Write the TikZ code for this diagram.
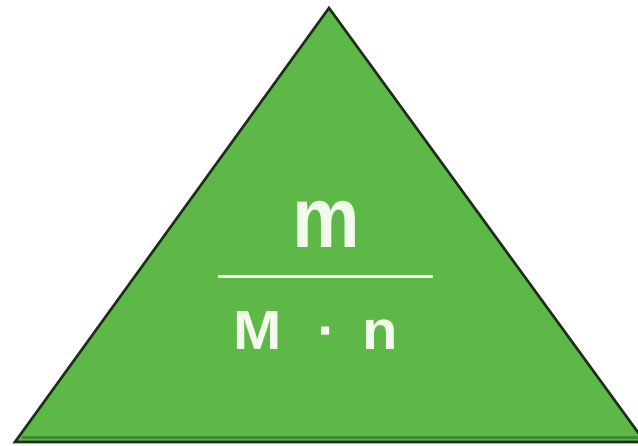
\documentclass[tikz,border=0pt]{standalone}
\usepackage{fontspec}
\setmainfont{Liberation Sans}
\usepackage{graphicx}
\definecolor{trigreen}{HTML}{5DB848}
\definecolor{edgedark}{HTML}{1C3018}
\definecolor{bandgreen}{HTML}{3E8A31}
\definecolor{txt}{HTML}{F2FAEC}
\begin{document}
\begin{tikzpicture}[x=1pt,y=1pt,
  tri/.style={fill=trigreen,draw=edgedark,line width=2.6pt,line join=miter},
  lbl/.style={text=txt,inner sep=0pt,font=\bfseries}]
\useasboundingbox (0,0) rectangle (638,445);
\begin{scope}
\clip (0,0) rectangle (638,445);
\coordinate (apex) at (329,437);
\coordinate (bl) at (15,3);
\coordinate (br) at (645,3);
\filldraw[tri] (apex) -- (bl) -- (br) -- cycle;
\coordinate (b1) at (22,7);
\coordinate (b2) at (640,7);
\draw[bandgreen,line width=3pt] (b1) -- (b2);
\end{scope}
\node[lbl,anchor=base] (num) at (326,197) {\scalebox{1}[1.13]{\fontsize{76}{80}\selectfont m}};
\coordinate (fl) at (218,168);
\coordinate (fr) at (433,168);
\draw[txt,line width=3pt] (fl) -- (fr);
\node[lbl,anchor=base west] (den) at (233,95) {\scalebox{1}[0.95]{\fontsize{58}{62}\selectfont M\hspace{36pt}·\hspace{26pt}n}};
\end{tikzpicture}
\end{document}
